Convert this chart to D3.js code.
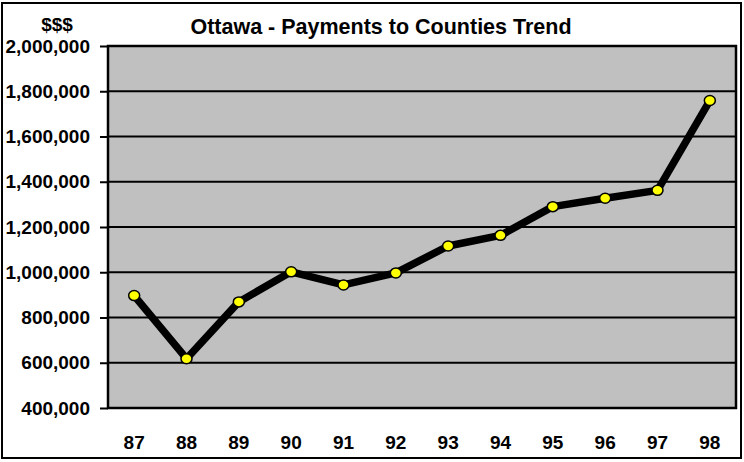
<!DOCTYPE html>
<html>
<head>
<meta charset="utf-8">
<script src="https://cdn.jsdelivr.net/npm/d3@7"></script>
<style>
  body { margin: 0; background: #fff; }
  text { font-family: "Liberation Sans", Arial, sans-serif; font-weight: bold; fill: #000; }
</style>
</head>
<body>
<script>
// data
var years = ["87", "88", "89", "90", "91", "92", "93", "94", "95", "96", "97", "98"];
var payments = [897000, 618000, 869000, 1002000, 944000, 997000, 1116000, 1163000, 1290000, 1327000, 1362000, 1759000];
var yTicks = [400000, 600000, 800000, 1000000, 1200000, 1400000, 1600000, 1800000, 2000000];

var W = 744, H = 462;
var plotL = 108, plotR = 736, plotT = 46, plotB = 408;

var svg = d3.select("body").append("svg")
    .attr("width", W)
    .attr("height", H);

// outer frame
svg.append("rect")
    .attr("x", 2).attr("y", 3)
    .attr("width", 739).attr("height", 455)
    .attr("fill", "#fff")
    .attr("stroke", "#000")
    .attr("stroke-width", 2);

var x = d3.scaleBand().domain(years).range([plotL, plotR]).padding(0);
var y = d3.scaleLinear().domain([400000, 2000000]).range([plotB, plotT]);

// plot area
svg.append("rect")
    .attr("x", plotL).attr("y", plotT)
    .attr("width", plotR - plotL).attr("height", plotB - plotT)
    .attr("fill", "#c0c0c0");

// gridlines
svg.append("g").selectAll("line")
    .data(yTicks.slice(1, -1))
    .enter().append("line")
    .attr("x1", plotL).attr("x2", plotR)
    .attr("y1", function(d){ return y(d); })
    .attr("y2", function(d){ return y(d); })
    .attr("stroke", "#000")
    .attr("stroke-width", 2);

svg.append("rect")
    .attr("x", plotL).attr("y", plotT)
    .attr("width", plotR - plotL).attr("height", plotB - plotT)
    .attr("fill", "none")
    .attr("stroke", "#000")
    .attr("stroke-width", 2.5);

// y axis
var yAxis = svg.append("g")
    .attr("transform", "translate(" + plotL + ",0)")
    .call(d3.axisLeft(y).tickValues(yTicks).tickFormat(d3.format(",")).tickSize(8).tickPadding(10));
yAxis.select(".domain").remove();
yAxis.selectAll("line").attr("stroke", "#000").attr("stroke-width", 2);
yAxis.selectAll("text")
    .attr("font-size", 19)
    .style("font-family", "'Liberation Sans', Arial, sans-serif");

// x axis
var xAxis = svg.append("g")
    .attr("transform", "translate(0," + plotB + ")")
    .call(d3.axisBottom(x).tickSize(0).tickPadding(28));
xAxis.select(".domain").remove();
xAxis.selectAll("text")
    .attr("font-size", 19)
    .style("font-family", "'Liberation Sans', Arial, sans-serif");

// line
var line = d3.line()
    .x(function(d, i){ return x(years[i]) + x.bandwidth() / 2; })
    .y(function(d){ return y(d); });

svg.append("path")
    .datum(payments)
    .attr("d", line)
    .attr("fill", "none")
    .attr("stroke", "#000")
    .attr("stroke-width", 7.5)
    .attr("stroke-linejoin", "round");

svg.append("g").selectAll("ellipse")
    .data(payments)
    .enter().append("ellipse")
    .attr("cx", function(d, i){ return x(years[i]) + x.bandwidth() / 2; })
    .attr("cy", function(d){ return y(d); })
    .attr("rx", 5.5)
    .attr("ry", 5)
    .attr("fill", "#ffff00")
    .attr("stroke", "#000")
    .attr("stroke-width", 1.5);

// titles
svg.append("text")
    .attr("x", 381).attr("y", 34)
    .attr("text-anchor", "middle")
    .attr("font-size", 21.5)
    .text("Ottawa - Payments to Counties Trend");

svg.append("text")
    .attr("x", 57).attr("y", 31)
    .attr("text-anchor", "middle")
    .attr("font-size", 19)
    .text("$$$");
</script>
</body>
</html>
